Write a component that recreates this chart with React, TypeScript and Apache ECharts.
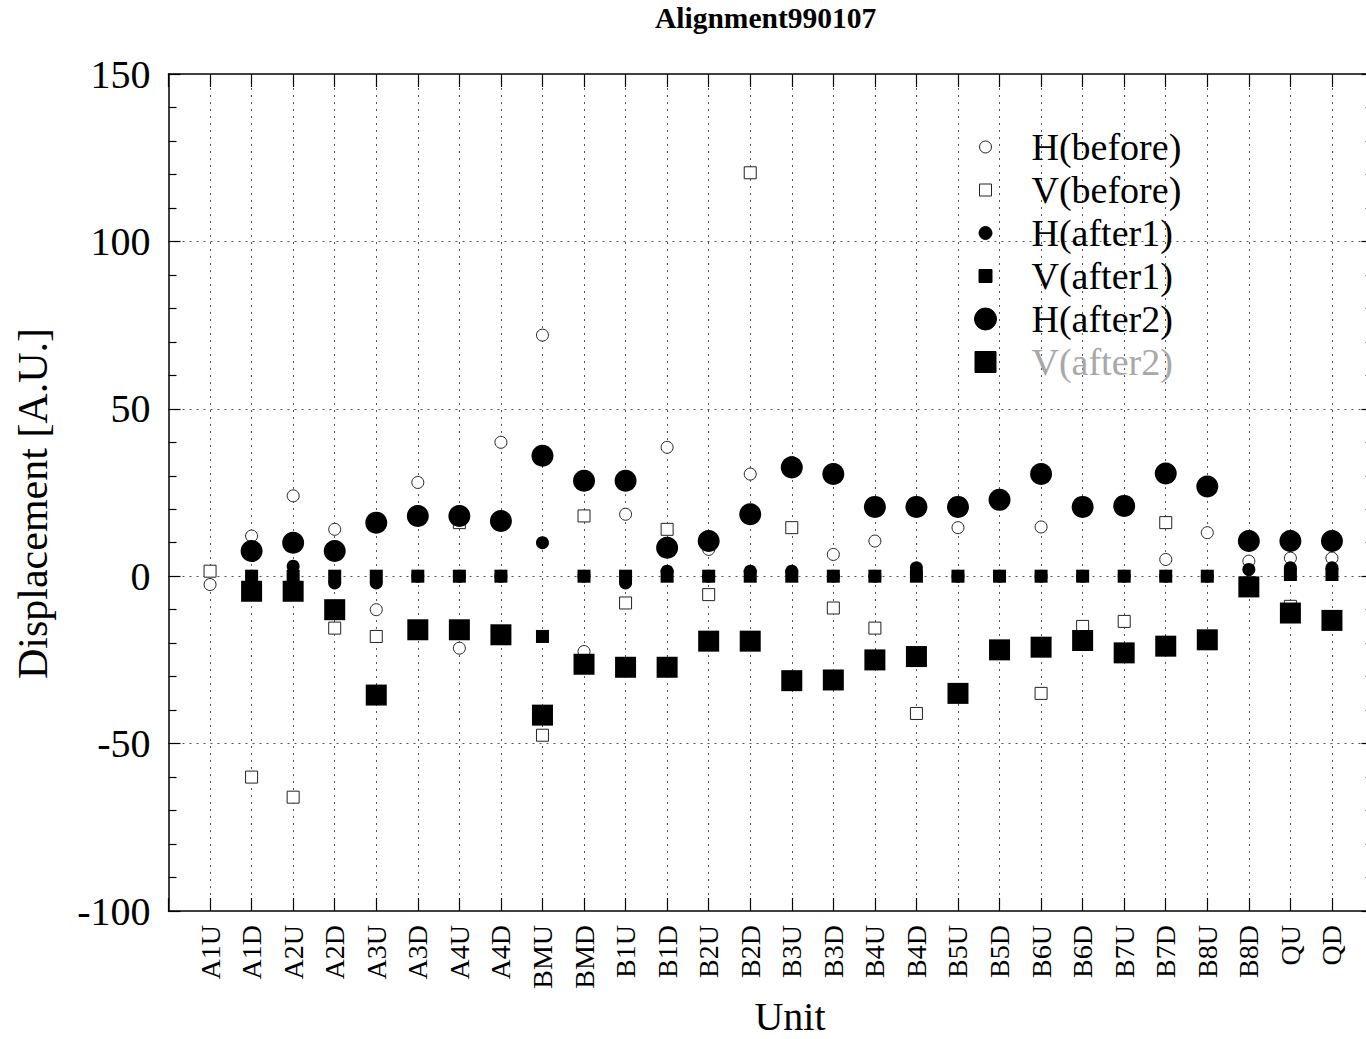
import React, { useEffect, useRef } from "react";
import * as echarts from "echarts";

const units = [
  "A1U", "A1D", "A2U", "A2D", "A3U", "A3D", "A4U", "A4D", "BMU", "BMD",
  "B1U", "B1D", "B2U", "B2D", "B3U", "B3D", "B4U", "B4D", "B5U", "B5D",
  "B6U", "B6D", "B7U", "B7D", "B8U", "B8D", "QU", "QD",
];

const hBefore = [-2.5, 12, 24, 14, -10, 28, -21.5, 40, 72, -22.5, 18.5, 38.5, 8, 30.5, 34, 6.5, 10.5, 21.5, 14.5, 22, 14.7, 20.5, 22, 5, 13, 4.5, 5.4, 5.4];
const vBefore = [1.5, -60, -66, -15.5, -18, -16, 16, -18, -47.5, 18, -8, 14, -5.5, 120.5, 14.5, -9.5, -15.5, -41, -35, -22, -35, -15, -13.5, 16, -19, -2.5, -9, -13];
const hAfter1 = [null, 0, 3, -2, -2, 0, 0, 0, 10, 0, -2, 1.5, 0, 1.5, 1.5, 0, 0, 2.5, 0, 0, 0, 0, 0, 0, 0, 2, 2.5, 2.5];
const vAfter1 = [null, 0, 0, 0, 0, 0, 0, 0, -18, 0, 0, 0, 0, 0, 0, 0, 0, 0, 0, 0, 0, 0, 0, 0, 0, -2, 0.5, 0.5];
const hAfter2 = [null, 7.5, 10, 7.5, 16, 18, 18, 16.5, 36, 28.5, 28.5, 8.5, 10.5, 18.5, 32.5, 30.5, 20.7, 20.7, 20.7, 22.8, 30.5, 20.7, 21, 30.7, 26.8, 10.5, 10.5, 10.5];
const vAfter2 = [null, -4.5, -4.5, -10, -35.5, -16, -16, -17.5, -41.5, -26.3, -27.2, -27.2, -19.4, -19.4, -31.2, -31, -25, -24, -35, -22, -21.2, -19.2, -22.9, -20.9, -19, -3.2, -11, -13.2];

const yTicks = [-100, -50, 0, 50, 100, 150];

const FONT = "'Liberation Serif', 'Times New Roman', Times, serif";

const LW = 82;
const LH = 24;
function circleIcon(r: number) {
  const cx = LW / 2, cy = LH / 2;
  return `path://M0 0M${LW} ${LH}M${cx - r} ${cy}A${r} ${r} 0 1 1 ${cx + r} ${cy}A${r} ${r} 0 1 1 ${cx - r} ${cy}Z`;
}
function squareIcon(s: number) {
  const cx = LW / 2, cy = LH / 2;
  return `path://M0 0M${LW} ${LH}M${cx - s / 2} ${cy - s / 2}h${s}v${s}h${-s}Z`;
}

type Def = { name: string; symbol: string; size: number; open: boolean; values: (number | null)[] };
const defs: Def[] = [
  { name: "H(before)", symbol: "circle", size: 12, open: true, values: hBefore },
  { name: "V(before)", symbol: "rect", size: 12, open: true, values: vBefore },
  { name: "H(after1)", symbol: "circle", size: 13, open: false, values: hAfter1 },
  { name: "V(after1)", symbol: "rect", size: 13, open: false, values: vAfter1 },
  { name: "H(after2)", symbol: "circle", size: 22, open: false, values: hAfter2 },
  { name: "V(after2)", symbol: "rect", size: 21, open: false, values: vAfter2 },
];

function toPoints(values: (number | null)[]) {
  const out: number[][] = [];
  values.forEach((v, i) => {
    if (v !== null) out.push([i, v]);
  });
  return out;
}

const axisLineStyle = { color: "#000", width: 1.5 };
const gridLineStyle = { color: "#555", width: 1, type: [2, 5] as number[] };

export default function App() {
  const ref = useRef<HTMLDivElement>(null);
  useEffect(() => {
    if (!ref.current) return;
    const chart = echarts.init(ref.current, null, { renderer: "svg" });
    const xCommon = {
      type: "value",
      min: -1,
      max: 28,
      interval: 1,
      axisLine: { show: true, onZero: false, lineStyle: axisLineStyle },
      axisTick: { show: true, inside: true, length: 13, lineStyle: { color: "#000", width: 1.2 } },
    };
    const yCommon = {
      type: "value",
      min: yTicks[0],
      max: yTicks[yTicks.length - 1],
      interval: 50,
      axisLine: { show: true, onZero: false, lineStyle: axisLineStyle },
      axisTick: { show: true, inside: true, length: 12, lineStyle: { color: "#000", width: 1.2 } },
      minorTick: { show: true, splitNumber: 5, length: 8, lineStyle: { color: "#000", width: 1.2 } },
    };
    chart.setOption({
      animation: false,
      backgroundColor: "#fff",
      title: {
        text: "Alignment990107",
        left: 655,
        top: 3,
        padding: 0,
        textStyle: { fontSize: 29.5, fontWeight: "bold", fontFamily: FONT, color: "#000" },
      },
      legend: {
        orient: "vertical",
        left: 944,
        top: 128,
        padding: 0,
        itemWidth: LW,
        itemHeight: LH,
        itemGap: 5,
        selectedMode: false,
        itemStyle: { borderWidth: 1 },
        textStyle: { fontSize: 38, fontFamily: FONT, color: "#000" },
        data: defs.map((d) => ({
          name: d.name,
          icon: d.symbol === "circle" ? circleIcon(d.size / 2) : squareIcon(d.size),
          textStyle: d.name === "V(after2)"
            ? { fontSize: 38, fontFamily: FONT, color: "#a8a8a8" }
            : { fontSize: 38, fontFamily: FONT, color: "#000" },
        })),
      },
      grid: {
        left: 168.5,
        top: 74,
        width: 1205,
        height: 837,
        containLabel: false,
        outerBoundsMode: "none",
      },
      xAxis: [
        {
          ...xCommon,
          position: "bottom",
          axisLabel: {
            show: true,
            rotate: 90,
            fontSize: 28,
            margin: 14,
            color: "#000",
            fontFamily: FONT,
            formatter: (v: number) => units[Math.round(v)] ?? "",
          },
          splitLine: { show: true, showMinLine: false, showMaxLine: false, lineStyle: gridLineStyle },
          name: "Unit",
          nameLocation: "middle",
          nameGap: 85,
          nameTextStyle: { fontSize: 40, fontFamily: FONT, color: "#000", padding: [0, 0, 0, 38] },
        },
        {
          ...xCommon,
          position: "top",
          axisLabel: { show: false },
          splitLine: { show: false },
        },
      ],
      yAxis: [
        {
          ...yCommon,
          position: "left",
          axisLabel: { show: true, fontSize: 40, margin: 18, color: "#000", fontFamily: FONT },
          splitLine: { show: true, showMinLine: false, showMaxLine: false, lineStyle: gridLineStyle },
          name: "Displacement [A.U.]",
          nameLocation: "middle",
          nameGap: 115,
          nameTextStyle: { fontSize: 42, fontFamily: FONT, color: "#000", padding: [0, 22, 0, 0] },
        },
        {
          ...yCommon,
          position: "right",
          axisLabel: { show: false },
          splitLine: { show: false },
        },
      ],
      series: defs.map((d) => ({
        name: d.name,
        type: "scatter",
        xAxisIndex: 0,
        yAxisIndex: 0,
        symbol: d.symbol,
        symbolSize: d.size,
        data: toPoints(d.values),
        itemStyle: d.open
          ? { color: "#fff", borderColor: "#222", borderWidth: 1, opacity: 1 }
          : { color: "#000", borderColor: "#000", borderWidth: 0, opacity: 1 },
        emphasis: { disabled: true },
      })),
    });
    return () => chart.dispose();
  }, []);
  return (
    <div
      ref={ref}
      style={{ position: "fixed", left: 0, top: 0, width: 1366, height: 1039, background: "#fff" }}
    />
  );
}
